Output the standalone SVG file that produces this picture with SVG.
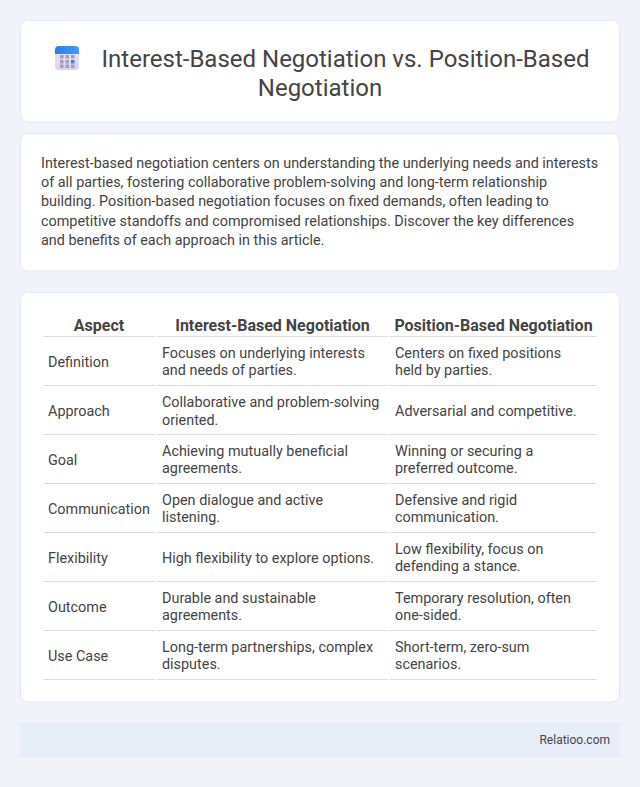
<svg xmlns="http://www.w3.org/2000/svg" width="640" height="787" viewBox="0 0 640 787">
<style>
text{font-family:Roboto,"Liberation Sans",sans-serif;fill:#444}
.card{fill:#fff;stroke:#e4e8f1;stroke-width:1}
.t{font-size:24px}
.p{font-size:14.4px}
.h{font-size:16px;font-weight:700;text-anchor:middle}
.c{font-size:14.4px}
.l{stroke:#ddd;stroke-width:1;fill:none}
</style>
<defs>
<linearGradient id="cal" x1="0" y1="0" x2="0" y2="1"><stop offset="0" stop-color="#ece6f4"/><stop offset="1" stop-color="#ddd3ea"/></linearGradient>
<linearGradient id="top" x1="0" y1="0" x2="1" y2="0"><stop offset="0" stop-color="#2b7cf0"/><stop offset="1" stop-color="#36a0f8"/></linearGradient>
</defs>
<rect width="640" height="787" fill="#f0f3f9"/>
<g id="title-card">
<rect class="card" x="20.5" y="20.5" width="599" height="101.5" rx="8"/>
<g id="icon">
<rect x="55" y="46" width="24" height="24" rx="4" fill="url(#cal)"/>
<path d="M55 54v-4a4 4 0 0 1 4-4h16a4 4 0 0 1 4 4v4z" fill="url(#top)"/>
<g fill="#a79db5"><rect x="60" y="55" width="3.500" height="3.500"/><rect x="65.500" y="55" width="3.500" height="3.500"/><rect x="71" y="55" width="3.500" height="3.500"/><rect x="60" y="60" width="3.500" height="3.500"/><rect x="65.500" y="60" width="3.500" height="3.500"/><rect x="60" y="64.500" width="3.500" height="3.500"/><rect x="65.500" y="64.500" width="3.500" height="3.500"/><rect x="71" y="64.500" width="3.500" height="3.500"/></g>
<rect x="71" y="60" width="3.500" height="3.500" fill="#2b8cf0"/>
</g>
<text class="t" x="345.500" y="67" text-anchor="middle">Interest-Based Negotiation vs. Position-Based</text>
<text class="t" x="320" y="96" text-anchor="middle">Negotiation</text>
</g>
<g id="intro-card">
<rect class="card" x="20.500" y="133.500" width="599" height="137.500" rx="8"/>
<text class="p" x="41" y="168">Interest-based negotiation centers on understanding the underlying needs and interests</text>
<text class="p" x="41" y="187">of all parties, fostering collaborative problem-solving and long-term relationship</text>
<text class="p" x="41" y="206">building. Position-based negotiation focuses on fixed demands, often leading to</text>
<text class="p" x="41" y="226">competitive standoffs and compromised relationships. Discover the key differences</text>
<text class="p" x="41" y="245">and benefits of each approach in this article.</text>
</g>
<g id="table-card">
<rect class="card" x="20.500" y="292.500" width="599" height="409.500" rx="8"/>
<text class="h" x="99" y="331">Aspect</text>
<text class="h" x="272.500" y="331">Interest-Based Negotiation</text>
<text class="h" x="493.500" y="331">Position-Based Negotiation</text>
<g class="l">
<path d="M43 336.500H155M157 336.500H388M390 336.500H597"/>
<path d="M43 385.500H155M157 385.500H388M390 385.500H597"/>
<path d="M43 434.500H155M157 434.500H388M390 434.500H597"/>
<path d="M43 483.500H155M157 483.500H388M390 483.500H597"/>
<path d="M43 532.500H155M157 532.500H388M390 532.500H597"/>
<path d="M43 581.500H155M157 581.500H388M390 581.500H597"/>
<path d="M43 630.500H155M157 630.500H388M390 630.500H597"/>
<path d="M43 679.500H155M157 679.500H388M390 679.500H597"/>
</g>
<g class="c">
<text x="48" y="367">Definition</text><text x="162" y="358">Focuses on underlying interests</text><text x="162" y="375">and needs of parties.</text><text x="395" y="358">Centers on fixed positions</text><text x="395" y="375">held by parties.</text>
<text x="48" y="416">Approach</text><text x="162" y="407">Collaborative and problem-solving</text><text x="162" y="425">oriented.</text><text x="395" y="416">Adversarial and competitive.</text>
<text x="48" y="465">Goal</text><text x="162" y="456">Achieving mutually beneficial</text><text x="162" y="473">agreements.</text><text x="395" y="456">Winning or securing a</text><text x="395" y="473">preferred outcome.</text>
<text x="48" y="514">Communication</text><text x="162" y="505">Open dialogue and active</text><text x="162" y="522">listening.</text><text x="395" y="505">Defensive and rigid</text><text x="395" y="522">communication.</text>
<text x="48" y="563">Flexibility</text><text x="162" y="563">High flexibility to explore options.</text><text x="395" y="554">Low flexibility, focus on</text><text x="395" y="571">defending a stance.</text>
<text x="48" y="612">Outcome</text><text x="162" y="603">Durable and sustainable</text><text x="162" y="620">agreements.</text><text x="395" y="603">Temporary resolution, often</text><text x="395" y="620">one-sided.</text>
<text x="48" y="661">Use Case</text><text x="162" y="652">Long-term partnerships, complex</text><text x="162" y="669">disputes.</text><text x="395" y="652">Short-term, zero-sum</text><text x="395" y="669">scenarios.</text>
</g>
</g>
<g id="footer">
<rect x="20" y="723" width="600" height="34" fill="#e8eef8"/>
<text x="610" y="744" font-size="12px" text-anchor="end">Relatioo.com</text>
</g>
</svg>
